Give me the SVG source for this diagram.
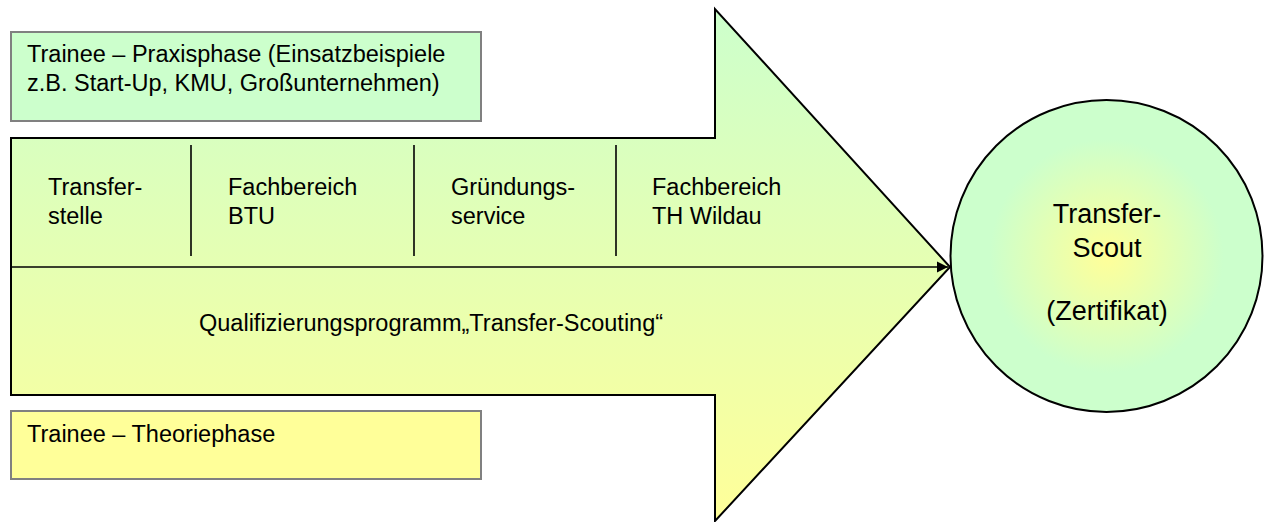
<svg xmlns="http://www.w3.org/2000/svg" width="1266" height="522" viewBox="0 0 1266 522">
  <style>
    text { font-family: "Liberation Sans", Arial, sans-serif; fill: #000; }
    .t { font-size: 23.5px; }
    .c { font-size: 27px; text-anchor: middle; }
    .box { stroke: #808080; stroke-width: 2; }
    .div { stroke: #000; stroke-width: 1.6; }
  </style>
  <defs>
    <linearGradient id="arrowGrad" gradientUnits="userSpaceOnUse" x1="0" y1="9" x2="0" y2="521">
      <stop offset="0" stop-color="#ccffcc"/>
      <stop offset="1" stop-color="#ffff99"/>
    </linearGradient>
    <radialGradient id="circGrad" cx="0.5" cy="0.5" r="0.5">
      <stop offset="0" stop-color="#ffff99"/>
      <stop offset="0.75" stop-color="#ccffcc"/>
      <stop offset="1" stop-color="#ccffcc"/>
    </radialGradient>
    <marker id="ah" viewBox="0 0 10 10" refX="10" refY="5" markerWidth="7" markerHeight="7" markerUnits="strokeWidth" orient="auto">
      <path d="M0,0 L10,5 L0,10 Z" fill="#000"/>
    </marker>
  </defs>

  <g id="praxis">
    <rect class="box" x="11" y="32" width="470" height="89" fill="#ccffcc"/>
    <text class="t" x="27" y="62">Trainee – Praxisphase (Einsatzbeispiele</text>
    <text class="t" x="27" y="91">z.B. Start-Up, KMU, Großunternehmen)</text>
  </g>

  <g id="arrow">
    <path d="M11,138 L715,138 L715,9 L950,267 L715,521 L715,395 L11,395 Z" fill="url(#arrowGrad)" stroke="#000" stroke-width="2" stroke-linejoin="miter"/>
    <line class="div" x1="191" y1="145" x2="191" y2="256"/>
    <line class="div" x1="414" y1="145" x2="414" y2="256"/>
    <line class="div" x1="616" y1="145" x2="616" y2="256"/>
    <text class="t" x="199" y="331">Qualifizierungsprogramm„Transfer-Scouting“</text>
  </g>

  <g id="transferstelle">
    <text class="t" x="48" y="195">Transfer-</text>
    <text class="t" x="48" y="224">stelle</text>
  </g>
  <g id="fachbereich-btu">
    <text class="t" x="228" y="195">Fachbereich</text>
    <text class="t" x="228" y="224">BTU</text>
  </g>
  <g id="gruendungsservice">
    <text class="t" x="451" y="195">Gründungs-</text>
    <text class="t" x="451" y="224">service</text>
  </g>
  <g id="fachbereich-th">
    <text class="t" x="652" y="195">Fachbereich</text>
    <text class="t" x="652" y="224">TH Wildau</text>
  </g>

  <g id="theorie">
    <rect class="box" x="11" y="411" width="470" height="68" fill="#ffff99"/>
    <text class="t" x="27" y="442">Trainee – Theoriephase</text>
  </g>

  <g id="scout">
    <circle cx="1106.5" cy="256" r="156" fill="url(#circGrad)" stroke="#000" stroke-width="2"/>
    <text class="c" x="1107" y="223">Transfer-</text>
    <text class="c" x="1107" y="257">Scout</text>
    <text class="c" x="1107" y="320">(Zertifikat)</text>
  </g>

  <g id="connectors">
    <line x1="11" y1="267" x2="948" y2="267" stroke="#000" stroke-width="1.6" marker-end="url(#ah)"/>
  </g>
</svg>
